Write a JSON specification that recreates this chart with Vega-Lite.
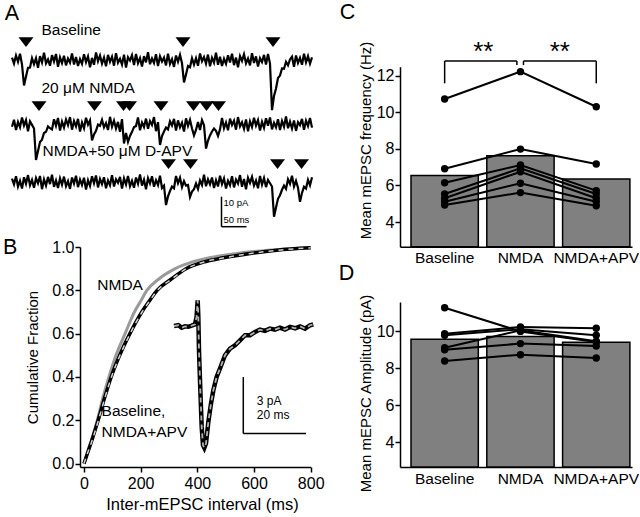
{
"$schema": "https://vega.github.io/schema/vega-lite/v6.json",
"padding": 0,
"background": "white",
"bounds": "flush",
"columns": 2,
"align": "each",
"spacing": {"row": 0, "column": 70},
"datasets": {
"tr1": [{"t":0,"v":0.8},{"t":4,"v":-1.2},{"t":8,"v":1.5},{"t":12,"v":-0.6},{"t":16,"v":2.1},{"t":20,"v":-1.5},{"t":24,"v":-8.5},{"t":28,"v":-5.5},{"t":32,"v":-2.6},{"t":36,"v":-2.5},
{"t":40,"v":0.6},{"t":44,"v":-1.4},{"t":48,"v":0.6},{"t":52,"v":-2.6},{"t":56,"v":1.3},{"t":60,"v":-0.8},{"t":64,"v":2.4},{"t":68,"v":-1.1},{"t":72,"v":0.2},{"t":76,"v":-1.9},
{"t":80,"v":1.6},{"t":84,"v":-0.5},{"t":88,"v":2.0},{"t":92,"v":-2.3},{"t":96,"v":0.9},{"t":100,"v":-1.0},{"t":104,"v":1.4},{"t":108,"v":-1.8},{"t":112,"v":0.5},{"t":116,"v":-0.9},
{"t":120,"v":2.2},{"t":124,"v":-1.5},{"t":128,"v":1.0},{"t":132,"v":-2.0},{"t":136,"v":0.3},{"t":140,"v":-1.3},{"t":144,"v":1.9},{"t":148,"v":-0.7},{"t":152,"v":1.2},{"t":156,"v":-2.4},
{"t":160,"v":0.7},{"t":164,"v":-1.6},{"t":168,"v":2.5},{"t":172,"v":-0.4},{"t":176,"v":1.5},{"t":180,"v":-1.2},{"t":184,"v":0.8},{"t":188,"v":-2.1},{"t":192,"v":1.7},{"t":196,"v":-0.6},
{"t":200,"v":1.1},{"t":204,"v":-1.9},{"t":208,"v":2.3},{"t":212,"v":-0.9},{"t":216,"v":0.4},{"t":220,"v":-1.5},{"t":224,"v":1.8},{"t":228,"v":-2.5},{"t":232,"v":0.9},{"t":236,"v":-0.2},
{"t":240,"v":1.6},{"t":244,"v":-1.7},{"t":248,"v":2.0},{"t":252,"v":-1.1},{"t":256,"v":0.6},{"t":260,"v":-2.2},{"t":264,"v":1.3},{"t":268,"v":-0.8},{"t":272,"v":2.6},{"t":276,"v":-1.4},
{"t":280,"v":0.5},{"t":284,"v":-1.0},{"t":288,"v":1.9},{"t":292,"v":-2.0},{"t":296,"v":1.2},{"t":300,"v":-0.5},{"t":304,"v":0.8},{"t":308,"v":-1.8},{"t":312,"v":2.1},{"t":316,"v":-1.3},
{"t":320,"v":0.3},{"t":324,"v":-2.3},{"t":328,"v":1.5},{"t":332,"v":-0.6},{"t":336,"v":1.7},{"t":340,"v":-1.1},{"t":344,"v":-7.5},{"t":348,"v":-4.8},{"t":352,"v":-2.0},{"t":356,"v":-2.4},
{"t":360,"v":0.6},{"t":364,"v":-1.5},{"t":368,"v":0.6},{"t":372,"v":-1.9},{"t":376,"v":2.2},{"t":380,"v":-0.4},{"t":384,"v":1.0},{"t":388,"v":-1.2},{"t":392,"v":1.8},{"t":396,"v":-2.1},
{"t":400,"v":0.7},{"t":404,"v":-0.9},{"t":408,"v":2.4},{"t":412,"v":-1.6},{"t":416,"v":1.1},{"t":420,"v":-2.0},{"t":424,"v":0.4},{"t":428,"v":-1.3},{"t":432,"v":1.6},{"t":436,"v":-0.8},
{"t":440,"v":2.1},{"t":444,"v":-1.7},{"t":448,"v":0.8},{"t":452,"v":-2.4},{"t":456,"v":1.3},{"t":460,"v":-0.3},{"t":464,"v":1.9},{"t":468,"v":-1.1},{"t":472,"v":0.5},{"t":476,"v":-1.8},
{"t":480,"v":2.3},{"t":484,"v":-1.0},{"t":488,"v":1.2},{"t":492,"v":-2.2},{"t":496,"v":0.6},{"t":500,"v":-0.7},{"t":504,"v":1.7},{"t":508,"v":-1.5},{"t":512,"v":2.0},{"t":516,"v":-1.2},
{"t":520,"v":-16.7},{"t":524,"v":-12.0},{"t":528,"v":-9.5},{"t":532,"v":-6.0},{"t":536,"v":-5.2},{"t":540,"v":-2.8},{"t":544,"v":-2.9},{"t":548,"v":-0.6},{"t":552,"v":-1.8},{"t":556,"v":0.2},
{"t":560,"v":1.1},{"t":564,"v":-2.3},{"t":568,"v":1.5},{"t":572,"v":-1.0},{"t":576,"v":0.7},{"t":580,"v":-1.6},{"t":584,"v":2.1},{"t":588,"v":-0.8},{"t":592,"v":1.3},{"t":596,"v":-1.2},{"t":600,"v":0.9}],
"tr2": [{"t":0,"v":-0.9},{"t":4,"v":1.4},{"t":8,"v":-2.0},{"t":12,"v":0.7},{"t":16,"v":-1.1},{"t":20,"v":2.2},{"t":24,"v":-0.5},{"t":28,"v":1.3},{"t":32,"v":-2.4},{"t":36,"v":0.9},
{"t":40,"v":-0.3},{"t":44,"v":-1.5},{"t":48,"v":-12.0},{"t":52,"v":-9.0},{"t":56,"v":-6.0},{"t":60,"v":-5.2},{"t":64,"v":-3.0},{"t":68,"v":-2.6},{"t":72,"v":-0.8},{"t":76,"v":-1.4},
{"t":80,"v":-1.8},{"t":84,"v":1.6},{"t":88,"v":-0.6},{"t":92,"v":2.0},{"t":96,"v":-2.2},{"t":100,"v":0.8},{"t":104,"v":-1.2},{"t":108,"v":1.5},{"t":112,"v":-0.4},{"t":116,"v":2.3},
{"t":120,"v":-1.9},{"t":124,"v":1.0},{"t":128,"v":-0.8},{"t":132,"v":1.7},{"t":136,"v":-2.5},{"t":140,"v":0.5},{"t":144,"v":-1.4},{"t":148,"v":2.1},{"t":152,"v":-0.2},{"t":156,"v":1.2},
{"t":160,"v":-5.5},{"t":164,"v":-3.5},{"t":168,"v":-2.3},{"t":172,"v":-0.2},{"t":176,"v":-0.6},{"t":180,"v":1.4},{"t":184,"v":-1.1},{"t":188,"v":0.3},{"t":192,"v":-2.0},{"t":196,"v":2.4},
{"t":200,"v":-0.9},{"t":204,"v":1.1},{"t":208,"v":-1.5},{"t":212,"v":0.7},{"t":216,"v":-2.6},{"t":220,"v":1.6},{"t":224,"v":-6.5},{"t":228,"v":-3.0},{"t":232,"v":-6.0},{"t":236,"v":-4.0},
{"t":240,"v":-2.6},{"t":244,"v":-1.0},{"t":248,"v":-0.7},{"t":252,"v":2.2},{"t":256,"v":-2.1},{"t":260,"v":0.5},{"t":264,"v":-1.0},{"t":268,"v":1.8},{"t":272,"v":-1.6},{"t":276,"v":1.0},
{"t":280,"v":-0.3},{"t":284,"v":2.3},{"t":288,"v":-2.4},{"t":292,"v":0.6},{"t":296,"v":-7.0},{"t":300,"v":-4.0},{"t":304,"v":-2.5},{"t":308,"v":-1.2},{"t":312,"v":-1.8},{"t":316,"v":0.9},
{"t":320,"v":-0.5},{"t":324,"v":1.7},{"t":328,"v":-2.2},{"t":332,"v":1.2},{"t":336,"v":-1.1},{"t":340,"v":0.4},{"t":344,"v":-2.5},{"t":348,"v":1.9},{"t":352,"v":-0.6},{"t":356,"v":1.4},
{"t":360,"v":-1.5},{"t":364,"v":-3.8},{"t":368,"v":-2.0},{"t":372,"v":0.7},{"t":376,"v":-2.0},{"t":380,"v":1.3},{"t":384,"v":-0.4},{"t":388,"v":-8.2},{"t":392,"v":-5.5},{"t":396,"v":-3.8},
{"t":400,"v":-2.5},{"t":404,"v":-1.5},{"t":408,"v":-2.3},{"t":412,"v":-4.0},{"t":416,"v":-1.8},{"t":420,"v":2.0},{"t":424,"v":-1.4},{"t":428,"v":0.5},{"t":432,"v":-2.1},{"t":436,"v":1.8},
{"t":440,"v":-0.3},{"t":444,"v":1.1},{"t":448,"v":-1.9},{"t":452,"v":2.3},{"t":456,"v":-0.8},{"t":460,"v":0.6},{"t":464,"v":-1.6},{"t":468,"v":1.5},{"t":472,"v":-2.4},{"t":476,"v":0.9},
{"t":480,"v":-1.0},{"t":484,"v":2.1},{"t":488,"v":-0.5},{"t":492,"v":1.3},{"t":496,"v":-2.2},{"t":500,"v":0.7},{"t":504,"v":-1.3},{"t":508,"v":1.9},{"t":512,"v":-0.6},{"t":516,"v":2.2},
{"t":520,"v":-1.8},{"t":524,"v":0.4},{"t":528,"v":-1.1},{"t":532,"v":1.6},{"t":536,"v":-2.0},{"t":540,"v":1.0},{"t":544,"v":-0.9},{"t":548,"v":2.5},{"t":552,"v":-1.4},{"t":556,"v":0.8},
{"t":560,"v":-1.5},{"t":564,"v":1.2},{"t":568,"v":-2.3},{"t":572,"v":0.6},{"t":576,"v":-0.4},{"t":580,"v":1.7},{"t":584,"v":-1.9},{"t":588,"v":1.1},{"t":592,"v":-0.7},{"t":596,"v":2.0},{"t":600,"v":-1.2}],
"tr3": [{"t":0,"v":1.1},{"t":4,"v":-0.8},{"t":8,"v":1.9},{"t":12,"v":-1.5},{"t":16,"v":0.4},{"t":20,"v":-2.2},{"t":24,"v":1.6},{"t":28,"v":-0.6},{"t":32,"v":2.3},{"t":36,"v":-1.1},
{"t":40,"v":0.7},{"t":44,"v":-1.9},{"t":48,"v":1.3},{"t":52,"v":-0.4},{"t":56,"v":2.0},{"t":60,"v":-2.4},{"t":64,"v":0.9},{"t":68,"v":-1.2},{"t":72,"v":1.7},{"t":76,"v":-0.7},
{"t":80,"v":2.4},{"t":84,"v":-1.6},{"t":88,"v":0.5},{"t":92,"v":-2.0},{"t":96,"v":1.2},{"t":100,"v":-0.9},{"t":104,"v":1.8},{"t":108,"v":-1.4},{"t":112,"v":0.3},{"t":116,"v":-2.3},
{"t":120,"v":1.5},{"t":124,"v":-0.5},{"t":128,"v":2.1},{"t":132,"v":-1.7},{"t":136,"v":0.8},{"t":140,"v":-1.0},{"t":144,"v":1.4},{"t":148,"v":-2.5},{"t":152,"v":0.6},{"t":156,"v":-1.3},
{"t":160,"v":1.9},{"t":164,"v":-0.4},{"t":168,"v":2.2},{"t":172,"v":-1.8},{"t":176,"v":1.0},{"t":180,"v":-0.7},{"t":184,"v":1.6},{"t":188,"v":-2.1},{"t":192,"v":0.5},{"t":196,"v":-1.1},
{"t":200,"v":2.3},{"t":204,"v":-1.5},{"t":208,"v":0.9},{"t":212,"v":-0.3},{"t":216,"v":1.7},{"t":220,"v":-2.2},{"t":224,"v":1.2},{"t":228,"v":-0.8},{"t":232,"v":2.0},{"t":236,"v":-1.4},
{"t":240,"v":0.4},{"t":244,"v":-1.9},{"t":248,"v":1.5},{"t":252,"v":-0.6},{"t":256,"v":2.5},{"t":260,"v":-1.2},{"t":264,"v":0.8},{"t":268,"v":-2.4},{"t":272,"v":1.3},{"t":276,"v":-0.5},
{"t":280,"v":1.9},{"t":284,"v":-1.6},{"t":288,"v":0.6},{"t":292,"v":-1.0},{"t":296,"v":2.1},{"t":300,"v":-2.0},{"t":304,"v":-1.2},{"t":308,"v":-7.7},{"t":312,"v":-4.8},{"t":316,"v":-3.0},
{"t":320,"v":-1.5},{"t":324,"v":-2.1},{"t":328,"v":2.0},{"t":332,"v":-0.4},{"t":336,"v":1.4},{"t":340,"v":-1.7},{"t":344,"v":0.3},{"t":348,"v":-1.2},{"t":352,"v":-1.0},{"t":356,"v":-5.0},
{"t":360,"v":-3.2},{"t":364,"v":-2.4},{"t":368,"v":-0.5},{"t":372,"v":-2.3},{"t":376,"v":0.5},{"t":380,"v":-1.0},{"t":384,"v":2.4},{"t":388,"v":-1.4},{"t":392,"v":0.9},{"t":396,"v":-0.8},
{"t":400,"v":1.5},{"t":404,"v":-2.0},{"t":408,"v":0.6},{"t":412,"v":-1.5},{"t":416,"v":2.1},{"t":420,"v":-0.7},{"t":424,"v":1.2},{"t":428,"v":-2.2},{"t":432,"v":0.4},{"t":436,"v":-1.1},
{"t":440,"v":1.9},{"t":444,"v":-1.8},{"t":448,"v":0.8},{"t":452,"v":-0.5},{"t":456,"v":2.3},{"t":460,"v":-1.6},{"t":464,"v":1.0},{"t":468,"v":-2.4},{"t":472,"v":1.4},{"t":476,"v":-0.3},
{"t":480,"v":1.7},{"t":484,"v":-1.2},{"t":488,"v":0.5},{"t":492,"v":-2.1},{"t":496,"v":2.0},{"t":500,"v":-0.9},{"t":504,"v":1.3},{"t":508,"v":-1.7},{"t":512,"v":0.7},{"t":516,"v":-0.4},
{"t":520,"v":-1.5},{"t":524,"v":-11.6},{"t":528,"v":-8.5},{"t":532,"v":-5.6},{"t":536,"v":-4.4},{"t":540,"v":-2.6},{"t":544,"v":-1.2},{"t":548,"v":-2.3},{"t":552,"v":0.9},{"t":556,"v":-0.6},
{"t":560,"v":2.1},{"t":564,"v":-1.5},{"t":568,"v":0.4},{"t":572,"v":-1.9},{"t":576,"v":-6.6},{"t":580,"v":-3.6},{"t":584,"v":-1.6},{"t":588,"v":-2.2},{"t":592,"v":0.7},{"t":596,"v":-1.1},{"t":600,"v":1.6}],
"ev1": [{"t":28},{"t":342},{"t":522}],
"ev2": [{"t":54},{"t":165},{"t":223},{"t":235},{"t":298},{"t":363},{"t":389},{"t":413}],
"ev3": [{"t":313},{"t":357},{"t":531},{"t":579}],
"sbarA": [{"x":419,"x2":419,"y":-4.9,"y2":-14.9},{"x":419,"x2":469,"y":-14.9,"y2":-14.9}],
"cdfBase": [{"ms":0,"frac":0},{"ms":13,"frac":0.05},{"ms":26,"frac":0.1},{"ms":50,"frac":0.2},{"ms":72,"frac":0.3},{"ms":96,"frac":0.4},{"ms":126,"frac":0.5},{"ms":162,"frac":0.6},{"ms":204,"frac":0.7},{"ms":230,"frac":0.75},{"ms":258,"frac":0.8},{"ms":306,"frac":0.85},{"ms":360,"frac":0.9},{"ms":420,"frac":0.93},{"ms":492,"frac":0.95},{"ms":587,"frac":0.97},{"ms":680,"frac":0.985},{"ms":800,"frac":0.996}],
"cdfNMDA": [{"ms":0,"frac":0},{"ms":12,"frac":0.05},{"ms":24,"frac":0.1},{"ms":47,"frac":0.2},{"ms":66,"frac":0.3},{"ms":88,"frac":0.4},{"ms":113,"frac":0.5},{"ms":145,"frac":0.6},{"ms":178,"frac":0.7},{"ms":200,"frac":0.75},{"ms":222,"frac":0.8},{"ms":262,"frac":0.85},{"ms":322,"frac":0.9},{"ms":380,"frac":0.93},{"ms":442,"frac":0.95},{"ms":540,"frac":0.97},{"ms":650,"frac":0.985},{"ms":800,"frac":0.997}],
"cdfAPV": [{"ms":0,"frac":0},{"ms":13,"frac":0.05},{"ms":27,"frac":0.1},{"ms":51,"frac":0.2},{"ms":73,"frac":0.3},{"ms":97,"frac":0.4},{"ms":127,"frac":0.5},{"ms":163,"frac":0.6},{"ms":205,"frac":0.7},{"ms":231,"frac":0.75},{"ms":259,"frac":0.8},{"ms":307,"frac":0.85},{"ms":361,"frac":0.9},{"ms":421,"frac":0.93},{"ms":494,"frac":0.95},{"ms":588,"frac":0.97},{"ms":682,"frac":0.985},{"ms":800,"frac":0.996}],
"inset": [{"t":0,"pA":0.0},{"t":1.4,"pA":0.04},{"t":2.45,"pA":-0.09},{"t":3.5,"pA":-0.02},{"t":4.57,"pA":-0.04},{"t":5.64,"pA":0.02},{"t":6.7,"pA":0.09},{"t":7.2,"pA":0.48},{"t":7.55,"pA":1.36},{"t":7.76,"pA":0.48},{"t":7.97,"pA":-1.29},{"t":8.4,"pA":-3.4},{"t":8.83,"pA":-5.34},{"t":9.25,"pA":-6.31},{"t":9.67,"pA":-6.45},{"t":10.2,"pA":-6.22},{"t":10.95,"pA":-5.08},{"t":11.8,"pA":-4.11},{"t":12.55,"pA":-3.4},{"t":13.6,"pA":-2.7},{"t":14.67,"pA":-2.25},{"t":16.27,"pA":-1.55},{"t":17.86,"pA":-1.2},{"t":19.46,"pA":-1.02},{"t":21.05,"pA":-0.76},{"t":22.65,"pA":-0.49},{"t":24.24,"pA":-0.49},{"t":25.84,"pA":-0.32},{"t":27.43,"pA":-0.19},{"t":29.0,"pA":-0.26},{"t":30.6,"pA":-0.14},{"t":32.2,"pA":-0.19},{"t":33.8,"pA":-0.09},{"t":35.4,"pA":-0.19},{"t":37.0,"pA":-0.05},{"t":38.6,"pA":-0.12},{"t":40.2,"pA":-0.02},{"t":41.8,"pA":-0.14},{"t":43.4,"pA":0.04},{"t":44.4,"pA":0.09}],
"sbarB": [{"x":22.1,"x2":22.1,"y":-2.7,"y2":-5.69},{"x":22.1,"x2":42.1,"y":-5.69,"y2":-5.69}],
"freqMean": [{"cond":"Baseline","mean":6.54},{"cond":"NMDA","mean":7.63},{"cond":"NMDA+APV","mean":6.36}],
"freqCells": [
{"cell":1,"cond":"Baseline","freq":10.73},{"cell":1,"cond":"NMDA","freq":12.23},{"cell":1,"cond":"NMDA+APV","freq":10.31},
{"cell":2,"cond":"Baseline","freq":6.92},{"cell":2,"cond":"NMDA","freq":7.99},{"cell":2,"cond":"NMDA+APV","freq":7.18},
{"cell":3,"cond":"Baseline","freq":6.15},{"cell":3,"cond":"NMDA","freq":7.12},{"cell":3,"cond":"NMDA+APV","freq":5.72},
{"cell":4,"cond":"Baseline","freq":5.53},{"cell":4,"cond":"NMDA","freq":6.94},{"cell":4,"cond":"NMDA+APV","freq":5.53},
{"cell":5,"cond":"Baseline","freq":5.3},{"cell":5,"cond":"NMDA","freq":6.75},{"cell":5,"cond":"NMDA+APV","freq":5.3},
{"cell":6,"cond":"Baseline","freq":5.11},{"cell":6,"cond":"NMDA","freq":6.12},{"cell":6,"cond":"NMDA+APV","freq":5.11},
{"cell":7,"cond":"Baseline","freq":4.93},{"cell":7,"cond":"NMDA","freq":5.61},{"cell":7,"cond":"NMDA+APV","freq":4.89}],
"bracketsC": [{"x":0,"x2":0,"y":11.59,"y2":12.81},{"x":0,"x2":0.953,"y":12.81,"y2":12.81},{"x":0.953,"x2":0.953,"y":12.59,"y2":12.81},{"x":1.04,"x2":1.04,"y":12.59,"y2":12.81},{"x":1.04,"x2":2,"y":12.81,"y2":12.81},{"x":2,"x2":2,"y":11.59,"y2":12.81}],
"ampMean": [{"cond":"Baseline","mean":9.55},{"cond":"NMDA","mean":9.71},{"cond":"NMDA+APV","mean":9.39}],
"ampCells": [
{"cell":1,"cond":"Baseline","amp":11.26},{"cell":1,"cond":"NMDA","amp":9.98},{"cell":1,"cond":"NMDA+APV","amp":9.41},
{"cell":2,"cond":"Baseline","amp":9.86},{"cell":2,"cond":"NMDA","amp":10.22},{"cell":2,"cond":"NMDA+APV","amp":10.15},
{"cell":3,"cond":"Baseline","amp":9.77},{"cell":3,"cond":"NMDA","amp":10.1},{"cell":3,"cond":"NMDA+APV","amp":9.77},
{"cell":4,"cond":"Baseline","amp":9.1},{"cell":4,"cond":"NMDA","amp":10.04},{"cell":4,"cond":"NMDA+APV","amp":9.45},
{"cell":5,"cond":"Baseline","amp":8.99},{"cell":5,"cond":"NMDA","amp":9.32},{"cell":5,"cond":"NMDA+APV","amp":9.19},
{"cell":6,"cond":"Baseline","amp":8.38},{"cell":6,"cond":"NMDA","amp":8.72},{"cell":6,"cond":"NMDA+APV","amp":8.54}]
},
"concat": [
{
 "width": 330, "height": 240,
 "layer": [
  {"layer": [
   {"data": {"name": "tr1"}, "mark": {"type": "line", "color": "black", "strokeWidth": 2.2},
    "encoding": {"x": {"field": "t", "type": "quantitative", "scale": {"domain": [0, 600], "range": [12, 312], "nice": false, "zero": false}, "axis": null},
                 "y": {"field": "v", "type": "quantitative", "scale": {"domain": [-20, 12], "range": [120, 24], "nice": false, "zero": false}, "axis": null}}},
   {"data": {"name": "ev1"}, "mark": {"type": "point", "shape": "M-1,-0.65L1,-0.65L0,0.65Z", "filled": true, "color": "black", "opacity": 1, "size": 225},
    "encoding": {"x": {"field": "t", "type": "quantitative", "axis": null}, "y": {"datum": 6, "axis": null}}},
   {"data": {"values": [{"label": "Baseline"}]}, "mark": {"type": "text", "align": "left", "baseline": "alphabetic", "fontSize": 15.5, "font": "Liberation Sans", "color": "black"},
    "encoding": {"x": {"datum": 59, "axis": null}, "y": {"datum": 8.3, "axis": null}, "text": {"field": "label"}}},
   {"data": {"values": [{"label": "A"}]}, "mark": {"type": "text", "align": "center", "baseline": "alphabetic", "fontSize": 21.5, "font": "Liberation Sans", "color": "black"},
    "encoding": {"x": {"datum": 0, "axis": null}, "y": {"datum": 13.2, "axis": null}, "text": {"field": "label"}}}
  ]},
  {"layer": [
   {"data": {"name": "tr2"}, "mark": {"type": "line", "color": "black", "strokeWidth": 2.2},
    "encoding": {"x": {"field": "t", "type": "quantitative", "axis": null},
                 "y": {"field": "v", "type": "quantitative", "scale": {"domain": [-20, 12], "range": [184, 88], "nice": false, "zero": false}, "axis": null}}},
   {"data": {"name": "ev2"}, "mark": {"type": "point", "shape": "M-1,-0.65L1,-0.65L0,0.65Z", "filled": true, "color": "black", "opacity": 1, "size": 225},
    "encoding": {"x": {"field": "t", "type": "quantitative", "axis": null}, "y": {"datum": 6, "axis": null}}},
   {"data": {"values": [{"label": "20 μM NMDA"}]}, "mark": {"type": "text", "align": "left", "baseline": "alphabetic", "fontSize": 15.5, "font": "Liberation Sans", "color": "black"},
    "encoding": {"x": {"datum": 59, "axis": null}, "y": {"datum": 10.2, "axis": null}, "text": {"field": "label"}}}
  ]},
  {"layer": [
   {"data": {"name": "tr3"}, "mark": {"type": "line", "color": "black", "strokeWidth": 2.2},
    "encoding": {"x": {"field": "t", "type": "quantitative", "axis": null},
                 "y": {"field": "v", "type": "quantitative", "scale": {"domain": [-20, 12], "range": [242, 146], "nice": false, "zero": false}, "axis": null}}},
   {"data": {"name": "ev3"}, "mark": {"type": "point", "shape": "M-1,-0.65L1,-0.65L0,0.65Z", "filled": true, "color": "black", "opacity": 1, "size": 225},
    "encoding": {"x": {"field": "t", "type": "quantitative", "axis": null}, "y": {"datum": 6, "axis": null}}},
   {"data": {"values": [{"label": "NMDA+50 μM D-APV"}]}, "mark": {"type": "text", "align": "left", "baseline": "alphabetic", "fontSize": 15.5, "font": "Liberation Sans", "color": "black"},
    "encoding": {"x": {"datum": 61, "axis": null}, "y": {"datum": 8.7, "axis": null}, "text": {"field": "label"}}},
   {"data": {"name": "sbarA"}, "mark": {"type": "rule", "color": "black", "strokeWidth": 1.5},
    "encoding": {"x": {"field": "x", "type": "quantitative", "axis": null}, "x2": {"field": "x2"}, "y": {"field": "y", "type": "quantitative", "axis": null}, "y2": {"field": "y2"}}},
   {"data": {"values": [{"label": "10 pA"}]}, "mark": {"type": "text", "align": "left", "baseline": "alphabetic", "fontSize": 9.5, "font": "Liberation Sans", "color": "black"},
    "encoding": {"x": {"datum": 423, "axis": null}, "y": {"datum": -8.0, "axis": null}, "text": {"field": "label"}}},
   {"data": {"values": [{"label": "50 ms"}]}, "mark": {"type": "text", "align": "left", "baseline": "alphabetic", "fontSize": 9.5, "font": "Liberation Sans", "color": "black"},
    "encoding": {"x": {"datum": 423, "axis": null}, "y": {"datum": -13.5, "axis": null}, "text": {"field": "label"}}}
  ]}
 ],
 "resolve": {"scale": {"y": "independent"}}
},
{
 "width": 232, "height": 246.7,
 "layer": [
  {"layer": [
   {"data": {"name": "freqMean"}, "mark": {"type": "bar", "fill": "#808080", "stroke": "black", "strokeWidth": 1.5},
    "encoding": {"x": {"field": "cond", "type": "nominal", "title": null, "scale": {"domain": ["Baseline", "NMDA", "NMDA+APV"], "paddingInner": 0.112, "paddingOuter": 0.0864, "align": 0.84},
                       "axis": {"labelAngle": 0, "ticks": false, "tickSize": 0, "labelPadding": 4, "labelFontSize": 15.5}},
                 "y": {"field": "mean", "type": "quantitative", "title": "Mean mEPSC frequency (Hz)", "scale": {"domain": [2.65, 12.5], "range": [246.7, 66.7], "nice": false, "zero": false},
                       "axis": {"values": [4, 6, 8, 10, 12], "titleY": 140}},
                 "y2": {"datum": 2.65}}},
   {"data": {"name": "freqCells"}, "mark": {"type": "line", "color": "black", "strokeWidth": 2},
    "encoding": {"x": {"field": "cond", "type": "nominal", "title": null}, "y": {"field": "freq", "type": "quantitative", "title": "Mean mEPSC frequency (Hz)"}, "detail": {"field": "cell", "type": "nominal"}}},
   {"data": {"name": "freqCells"}, "mark": {"type": "point", "filled": true, "color": "black", "opacity": 1, "size": 55},
    "encoding": {"x": {"field": "cond", "type": "nominal", "title": null}, "y": {"field": "freq", "type": "quantitative", "title": "Mean mEPSC frequency (Hz)"}}}
  ]},
  {"layer": [
   {"data": {"name": "bracketsC"}, "mark": {"type": "rule", "color": "black", "strokeWidth": 1.5},
    "encoding": {"x": {"field": "x", "type": "quantitative", "scale": {"domain": [-0.589, 2.4716], "nice": false, "zero": false}, "axis": null}, "x2": {"field": "x2"},
                 "y": {"field": "y", "type": "quantitative", "title": "Mean mEPSC frequency (Hz)"}, "y2": {"field": "y2"}}},
   {"data": {"values": [{"label": "**"}]}, "mark": {"type": "text", "align": "center", "baseline": "alphabetic", "fontSize": 26, "font": "Liberation Sans", "color": "black"},
    "encoding": {"x": {"datum": 0.51, "axis": null}, "y": {"datum": 12.85, "title": "Mean mEPSC frequency (Hz)"}, "text": {"field": "label"}}},
   {"data": {"values": [{"label": "**"}]}, "mark": {"type": "text", "align": "center", "baseline": "alphabetic", "fontSize": 26, "font": "Liberation Sans", "color": "black"},
    "encoding": {"x": {"datum": 1.52, "axis": null}, "y": {"datum": 12.85, "title": "Mean mEPSC frequency (Hz)"}, "text": {"field": "label"}}},
   {"data": {"values": [{"label": "C"}]}, "mark": {"type": "text", "align": "center", "baseline": "alphabetic", "fontSize": 21.5, "font": "Liberation Sans", "color": "black"},
    "encoding": {"x": {"datum": -1.282, "axis": null}, "y": {"datum": 15.09, "title": "Mean mEPSC frequency (Hz)"}, "text": {"field": "label"}}}
  ]}
 ],
 "resolve": {"scale": {"x": "independent"}}
},
{
 "width": 330, "height": 220,
 "layer": [
  {"layer": [
   {"data": {"name": "cdfNMDA"}, "mark": {"type": "line", "color": "#9a9a9a", "strokeWidth": 3, "interpolate": "monotone"},
    "encoding": {"x": {"field": "ms", "type": "quantitative", "title": "Inter-mEPSC interval (ms)", "scale": {"domain": [-14, 800], "range": [80, 310.7], "nice": false, "zero": false},
                       "axis": {"values": [0, 200, 400, 600, 800], "labelFlush": false, "titleFontSize": 16.5, "titlePadding": 5, "labelPadding": 3, "titleX": 202}},
                 "y": {"field": "frac", "type": "quantitative", "title": "Cumulative Fraction", "scale": {"domain": [-0.0157, 1.0], "nice": false, "zero": false},
                       "axis": {"values": [0, 0.2, 0.4, 0.6, 0.8, 1.0], "format": ".1f", "offset": -80, "titlePadding": 11, "labelPadding": 1}}}},
   {"data": {"name": "cdfBase"}, "mark": {"type": "line", "color": "black", "strokeWidth": 3.5, "interpolate": "monotone"},
    "encoding": {"x": {"field": "ms", "type": "quantitative", "title": "Inter-mEPSC interval (ms)"}, "y": {"field": "frac", "type": "quantitative", "title": "Cumulative Fraction"}}},
   {"data": {"name": "cdfAPV"}, "mark": {"type": "line", "color": "#cfcfcf", "strokeWidth": 1.5, "strokeDash": [5, 5], "interpolate": "monotone"},
    "encoding": {"x": {"field": "ms", "type": "quantitative", "title": "Inter-mEPSC interval (ms)"}, "y": {"field": "frac", "type": "quantitative", "title": "Cumulative Fraction"}}},
   {"data": {"values": [{"label": "NMDA"}]}, "mark": {"type": "text", "align": "left", "baseline": "alphabetic", "fontSize": 15.5, "font": "Liberation Sans", "color": "black"},
    "encoding": {"x": {"datum": 47, "title": "Inter-mEPSC interval (ms)"}, "y": {"datum": 0.8, "title": "Cumulative Fraction"}, "text": {"field": "label"}}},
   {"data": {"values": [{"label": "Baseline,"}]}, "mark": {"type": "text", "align": "left", "baseline": "alphabetic", "fontSize": 15.5, "font": "Liberation Sans", "color": "black"},
    "encoding": {"x": {"datum": 62, "title": "Inter-mEPSC interval (ms)"}, "y": {"datum": 0.218, "title": "Cumulative Fraction"}, "text": {"field": "label"}}},
   {"data": {"values": [{"label": "NMDA+APV"}]}, "mark": {"type": "text", "align": "left", "baseline": "alphabetic", "fontSize": 15.5, "font": "Liberation Sans", "color": "black"},
    "encoding": {"x": {"datum": 62, "title": "Inter-mEPSC interval (ms)"}, "y": {"datum": 0.123, "title": "Cumulative Fraction"}, "text": {"field": "label"}}},
   {"data": {"values": [{"label": "B"}]}, "mark": {"type": "text", "align": "center", "baseline": "alphabetic", "fontSize": 21.5, "font": "Liberation Sans", "color": "black"},
    "encoding": {"x": {"datum": -260, "title": "Inter-mEPSC interval (ms)"}, "y": {"datum": 0.966, "title": "Cumulative Fraction"}, "text": {"field": "label"}}}
  ]},
  {"layer": [
   {"data": {"name": "inset"}, "mark": {"type": "line", "color": "black", "strokeWidth": 4.5},
    "encoding": {"x": {"field": "t", "type": "quantitative", "scale": {"domain": [-29.98, 43.6], "range": [80, 310.7], "nice": false, "zero": false}, "axis": null},
                 "y": {"field": "pA", "type": "quantitative", "scale": {"domain": [-7.46, 4.18], "nice": false, "zero": false}, "axis": null}}},
   {"data": {"name": "inset"}, "mark": {"type": "line", "color": "#b0b0b0", "strokeWidth": 1.8, "strokeDash": [5, 4]},
    "encoding": {"x": {"field": "t", "type": "quantitative", "axis": null}, "y": {"field": "pA", "type": "quantitative", "axis": null}}},
   {"data": {"name": "sbarB"}, "mark": {"type": "rule", "color": "black", "strokeWidth": 1.5},
    "encoding": {"x": {"field": "x", "type": "quantitative", "axis": null}, "x2": {"field": "x2"}, "y": {"field": "y", "type": "quantitative", "axis": null}, "y2": {"field": "y2"}}},
   {"data": {"values": [{"label": "3 pA"}]}, "mark": {"type": "text", "align": "left", "baseline": "alphabetic", "fontSize": 12, "font": "Liberation Sans", "color": "black"},
    "encoding": {"x": {"datum": 26.4, "axis": null}, "y": {"datum": -4.2, "axis": null}, "text": {"field": "label"}}},
   {"data": {"values": [{"label": "20 ms"}]}, "mark": {"type": "text", "align": "left", "baseline": "alphabetic", "fontSize": 12, "font": "Liberation Sans", "color": "black"},
    "encoding": {"x": {"datum": 26.4, "axis": null}, "y": {"datum": -4.9, "axis": null}, "text": {"field": "label"}}}
  ]}
 ],
 "resolve": {"scale": {"x": "independent", "y": "independent"}}
},
{
 "width": 232, "height": 220,
 "layer": [
  {"layer": [
   {"data": {"name": "ampMean"}, "mark": {"type": "bar", "fill": "#808080", "stroke": "black", "strokeWidth": 1.5},
    "encoding": {"x": {"field": "cond", "type": "nominal", "title": null, "scale": {"domain": ["Baseline", "NMDA", "NMDA+APV"], "paddingInner": 0.112, "paddingOuter": 0.0864, "align": 0.84},
                       "axis": {"labelAngle": 0, "ticks": false, "tickSize": 0, "labelPadding": 4, "labelFontSize": 15.5}},
                 "y": {"field": "mean", "type": "quantitative", "title": "Mean mEPSC Amplitude (pA)", "scale": {"domain": [2.65, 11.57], "range": [220, 55], "nice": false, "zero": false},
                       "axis": {"values": [4, 6, 8, 10], "titleY": 146}},
                 "y2": {"datum": 2.65}}},
   {"data": {"name": "ampCells"}, "mark": {"type": "line", "color": "black", "strokeWidth": 2},
    "encoding": {"x": {"field": "cond", "type": "nominal", "title": null}, "y": {"field": "amp", "type": "quantitative", "title": "Mean mEPSC Amplitude (pA)"}, "detail": {"field": "cell", "type": "nominal"}}},
   {"data": {"name": "ampCells"}, "mark": {"type": "point", "filled": true, "color": "black", "opacity": 1, "size": 55},
    "encoding": {"x": {"field": "cond", "type": "nominal", "title": null}, "y": {"field": "amp", "type": "quantitative", "title": "Mean mEPSC Amplitude (pA)"}}}
  ]},
  {"layer": [
   {"data": {"values": [{"label": "D"}]}, "mark": {"type": "text", "align": "center", "baseline": "alphabetic", "fontSize": 21.5, "font": "Liberation Sans", "color": "black"},
    "encoding": {"x": {"datum": -1.295, "type": "quantitative", "scale": {"domain": [-0.589, 2.4716], "nice": false, "zero": false}, "axis": null}, "y": {"datum": 12.74, "title": "Mean mEPSC Amplitude (pA)"}, "text": {"field": "label"}}}
  ]}
 ],
 "resolve": {"scale": {"x": "independent"}}
}
],
"config": {
 "view": {"stroke": null},
 "font": "Liberation Sans",
 "axis": {"grid": false, "domainColor": "black", "domainWidth": 1.5, "tickColor": "black", "tickWidth": 1.5, "tickSize": 5,
          "labelColor": "black", "labelFontSize": 16, "labelFont": "Liberation Sans", "labelPadding": 1,
          "titleFont": "Liberation Sans", "titleColor": "black", "titleFontSize": 15, "titleFontWeight": "normal"},
 "axisY": {"titlePadding": 3}
}
}
